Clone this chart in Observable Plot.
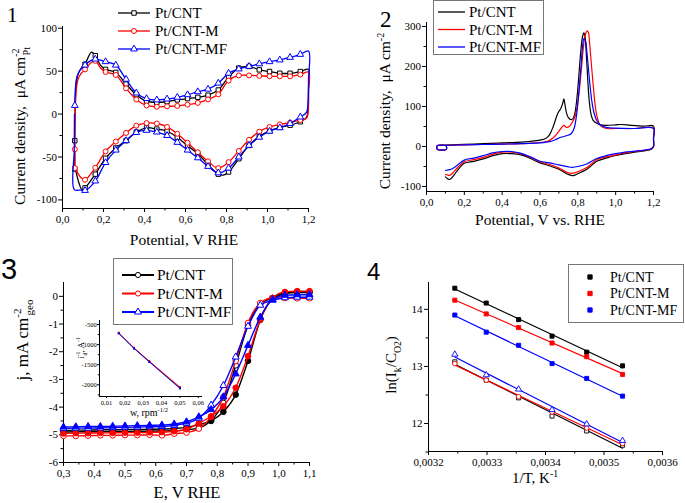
<!DOCTYPE html>
<html><head><meta charset="utf-8">
<script src="https://cdn.jsdelivr.net/npm/d3@7"></script>
<script src="https://cdn.jsdelivr.net/npm/@observablehq/plot@0.6"></script>
<style>
html,body{margin:0;padding:0;background:#fff;}
#fig{position:relative;width:685px;height:503px;overflow:hidden;background:#fff;}
#fig svg text{font-family:'Liberation Serif','Times New Roman',serif;}
#fig svg text.sans{font-family:'Liberation Sans',Arial,sans-serif;}
</style></head><body><div id="fig"></div>
<script>
// ---------- DATA ----------
const seriesNames = ["Pt/CNT", "Pt/CNT-M", "Pt/CNT-MF"];
const seriesColors = ["#000000", "#ff0000", "#0000ff"];

// Panel 1: CV (E, V RHE ; j, uA cm-2 Pt)
const cv1_CNT = [[0.06,-64],[0.06,-31],[0.062,10],[0.066,32],[0.075,46],[0.09,53],[0.11,58],[0.125,66],[0.14,72],[0.15,71],[0.16,68],[0.185,57],[0.21,52],[0.26,48.5],[0.31,35],[0.36,22.5],[0.41,15],[0.46,13.5],[0.51,14.5],[0.56,16.5],[0.61,18],[0.66,19.5],[0.71,22],[0.76,28],[0.81,43],[0.86,53.5],[0.91,55.5],[0.96,51.5],[1.01,49.5],[1.06,47.5],[1.11,47.5],[1.16,49.5],[1.2,52],[1.2,30],[1.198,5],[1.19,-4],[1.16,-9],[1.11,-13],[1.06,-15.5],[1.01,-19.5],[0.96,-26],[0.91,-36.5],[0.86,-52],[0.81,-67.5],[0.785,-71],[0.76,-70],[0.71,-59],[0.66,-46],[0.61,-37],[0.56,-27],[0.51,-20],[0.46,-17.5],[0.41,-16],[0.36,-21],[0.31,-31],[0.26,-39.5],[0.21,-51.5],[0.16,-70],[0.11,-86],[0.095,-88],[0.08,-80],[0.066,-67]];
const cv1_M = [[0.06,-63],[0.06,-41],[0.062,0],[0.066,25],[0.075,40],[0.09,47],[0.11,52],[0.135,59],[0.16,62],[0.185,54],[0.21,49],[0.26,45.5],[0.31,30],[0.36,17],[0.41,10],[0.46,8.5],[0.51,9],[0.56,9.5],[0.61,11],[0.66,13],[0.71,17],[0.76,23],[0.81,39],[0.86,45],[0.91,45],[0.96,44.5],[1.01,44],[1.06,44],[1.11,44],[1.16,46],[1.2,49],[1.2,25],[1.198,2],[1.19,-5],[1.16,-7],[1.11,-10],[1.06,-12],[1.01,-15],[0.96,-20.5],[0.91,-30],[0.86,-43],[0.81,-56],[0.76,-63],[0.71,-55],[0.66,-44.5],[0.61,-33.5],[0.56,-23],[0.51,-15],[0.46,-11],[0.41,-10.5],[0.36,-13.5],[0.31,-22],[0.26,-32],[0.21,-43.5],[0.16,-62.5],[0.11,-76.5],[0.09,-74],[0.066,-65]];
const cv1_MF = [[0.06,10],[0.063,30],[0.07,43],[0.085,51],[0.11,57],[0.135,62],[0.16,64],[0.21,61],[0.26,57],[0.31,40.5],[0.36,24.5],[0.41,18],[0.46,16.5],[0.51,17.5],[0.56,19.5],[0.61,22.5],[0.66,26],[0.71,29],[0.76,36],[0.81,47.5],[0.86,52.5],[0.91,55.5],[0.96,58.5],[1.01,61],[1.06,63],[1.11,66],[1.16,69.5],[1.2,73.5],[1.2,40],[1.198,15],[1.19,2],[1.16,-3.5],[1.11,-11],[1.06,-16],[1.01,-20],[0.96,-27],[0.91,-36.5],[0.86,-50],[0.81,-63],[0.76,-68.5],[0.71,-61],[0.66,-51],[0.61,-42],[0.56,-33],[0.51,-25],[0.46,-21],[0.41,-19],[0.36,-21.5],[0.31,-31],[0.26,-42],[0.21,-56.5],[0.16,-78],[0.11,-89],[0.09,-88.5],[0.0575,-88],[0.0575,-40],[0.0585,0]];

// Panel 2: CO stripping CV
const cv2_CNT = [[0.105,0],[0.105,-7],[0.057,-7],[0.057,2],[0.1,3.5],[0.2,5.5],[0.3,7],[0.4,9],[0.5,11],[0.55,13],[0.6,16],[0.63,20],[0.65,29],[0.67,50],[0.69,78],[0.70,88],[0.71,95],[0.72,108],[0.726,119],[0.732,105],[0.74,84],[0.75,72],[0.765,67],[0.775,70],[0.785,85],[0.795,120],[0.805,175],[0.815,235],[0.825,275],[0.832,284],[0.838,275],[0.845,230],[0.852,170],[0.86,115],[0.87,80],[0.88,66],[0.9,58],[0.92,54],[0.95,53],[1.0,54],[1.03,55],[1.08,53],[1.15,51],[1.2,51],[1.2,20],[1.2,0],[1.19,-6],[1.15,-11],[1.1,-14],[1.05,-18],[1.0,-22.5],[0.95,-29],[0.9,-37],[0.85,-56],[0.8,-68],[0.775,-73],[0.75,-70],[0.7,-57],[0.65,-48],[0.6,-41],[0.55,-30],[0.5,-21],[0.45,-18],[0.4,-18],[0.35,-23],[0.3,-31],[0.25,-37],[0.2,-42],[0.16,-62],[0.13,-80],[0.12,-82.5],[0.11,-80],[0.1,-76]];
const cv2_M = [[0.105,0],[0.105,-7],[0.057,-7],[0.057,2],[0.1,3],[0.2,4],[0.3,5],[0.4,6],[0.5,7],[0.6,10],[0.64,13],[0.67,22],[0.7,38],[0.715,48],[0.726,53],[0.74,48],[0.755,50],[0.77,60],[0.785,75],[0.8,110],[0.81,150],[0.82,200],[0.83,250],[0.84,280],[0.85,289],[0.856,285],[0.862,260],[0.87,215],[0.88,160],[0.89,110],[0.9,78],[0.92,52],[0.95,45],[1.0,45],[1.1,45],[1.2,46],[1.2,20],[1.2,0],[1.19,-5],[1.15,-10],[1.1,-12.5],[1.05,-16],[1.0,-21],[0.95,-26],[0.9,-33],[0.85,-52],[0.8,-63],[0.77,-67],[0.75,-66],[0.7,-54],[0.65,-45],[0.6,-38],[0.55,-27],[0.5,-18],[0.45,-14],[0.4,-14],[0.35,-19],[0.3,-27],[0.25,-33],[0.2,-38],[0.16,-55],[0.13,-70],[0.12,-72],[0.11,-71],[0.1,-70]];
const cv2_MF = [[0.105,0],[0.105,-7],[0.057,-7],[0.057,2],[0.1,3],[0.2,4],[0.3,5],[0.4,6],[0.5,7],[0.6,9],[0.65,12],[0.68,17],[0.71,23],[0.74,27],[0.765,32],[0.78,45],[0.795,85],[0.805,135],[0.815,190],[0.825,250],[0.832,270],[0.84,265],[0.848,235],[0.857,190],[0.865,150],[0.875,110],[0.885,85],[0.9,65],[0.92,53],[0.95,48],[1.0,46],[1.1,45],[1.2,45],[1.2,20],[1.2,0],[1.19,-5],[1.15,-9],[1.1,-11.7],[1.05,-14],[1.0,-18],[0.95,-23],[0.9,-30],[0.85,-43],[0.8,-50],[0.77,-52],[0.75,-51],[0.7,-46],[0.65,-41],[0.6,-37],[0.55,-26],[0.5,-17],[0.45,-12.5],[0.4,-12.5],[0.35,-16],[0.3,-23],[0.25,-29],[0.2,-34],[0.16,-48],[0.13,-57],[0.12,-58],[0.11,-59],[0.1,-60]];

// Panel 3: LSV (E, V RHE ; j, mA cm-2 geo)
const lsvE = [0.30,0.34,0.38,0.42,0.46,0.50,0.54,0.58,0.62,0.66,0.70,0.74,0.78,0.82,0.86,0.90,0.94,0.98,1.02,1.06,1.10];
const lsv_CNT_open   = [-4.90,-4.89,-4.89,-4.89,-4.88,-4.88,-4.87,-4.87,-4.86,-4.85,-4.82,-4.75,-4.48,-3.85,-2.49,-1.04,-0.27,-0.06,0.10,0.14,0.14];
const lsv_CNT_filled = [-4.84,-4.83,-4.83,-4.82,-4.82,-4.81,-4.81,-4.80,-4.79,-4.77,-4.73,-4.63,-4.50,-4.17,-3.55,-2.33,-0.85,-0.06,0.13,0.17,0.16];
const lsv_M_open     = [-5.04,-5.04,-5.03,-5.02,-5.02,-5.01,-5.01,-5.00,-5.02,-4.96,-4.92,-4.78,-4.35,-3.63,-2.33,-0.96,-0.24,-0.06,-0.06,-0.07,-0.07];
const lsv_M_filled   = [-4.95,-4.94,-4.94,-4.93,-4.93,-4.92,-4.92,-4.91,-4.90,-4.87,-4.80,-4.58,-4.33,-3.97,-3.30,-2.16,-0.84,-0.06,0.16,0.19,0.19];
const lsv_MF_open    = [-4.77,-4.76,-4.76,-4.75,-4.74,-4.73,-4.72,-4.71,-4.70,-4.66,-4.58,-4.40,-3.93,-3.22,-2.19,-1.08,-0.32,-0.14,-0.05,-0.03,-0.03];
const lsv_MF_filled  = [-4.72,-4.71,-4.70,-4.70,-4.69,-4.68,-4.67,-4.66,-4.65,-4.61,-4.53,-4.35,-4.09,-3.63,-2.80,-1.77,-0.75,-0.12,0.04,0.06,0.06];

// Inset: Koutecky-Levich
const klW = [0.0167, 0.025, 0.0333, 0.05];
const kl_CNT = [-715, -1090, -1420, -2075];
const kl_M   = [-705, -1080, -1410, -2055];
const kl_MF  = [-720, -1095, -1430, -2090];

// Panel 4: Arrhenius
const invT = [0.003245, 0.0032987, 0.003354, 0.0034112, 0.0034704, 0.0035317];
const arrA_CNT = [14.37, 14.11, 13.82, 13.53, 13.25, 13.01];
const arrA_M   = [14.16, 13.92, 13.68, 13.41, 13.17, 12.86];
const arrA_MF  = [13.90, 13.60, 13.37, 13.05, 12.79, 12.48];
const arrB_CNT = [13.08, 12.76, 12.45, 12.13, 11.87, 11.62];
const arrB_M   = [13.05, 12.76, 12.47, 12.20, 11.92, 11.65];
const arrB_MF  = [13.21, 12.85, 12.60, 12.24, 11.99, 11.70];

// Tick labels
const p1X = [0, 0.2, 0.4, 0.6, 0.8, 1.0, 1.2], p1Y = [-100, -50, 0, 50, 100];
const p2X = [0, 0.2, 0.4, 0.6, 0.8, 1.0, 1.2], p2Y = [-100, 0, 100, 200, 300];
const p3X = [0.3, 0.4, 0.5, 0.6, 0.7, 0.8, 0.9, 1.0, 1.1], p3Y = [-6, -5, -4, -3, -2, -1, 0];
const inX = [0.01, 0.02, 0.03, 0.04, 0.05, 0.06], inY = [-2000, -1500, -1000, -500];
const p4X = [0.0032, 0.0033, 0.0034, 0.0035, 0.0036], p4Y = [12, 13, 14];

// ---------- HELPERS ----------
const fig = document.getElementById("fig");
function place(el, left, top) { el.style.position = "absolute"; el.style.left = left + "px"; el.style.top = top + "px"; fig.appendChild(el); return el; }
const comma = f => d => d3.format(f)(d).replace(".", ",");
const plain = d => String(d);
const toPts = (arr, s) => arr.map(([E, j]) => ({E, j, s}));
const symType = {circle: d3.symbolCircle, square: d3.symbolSquare, triangle: d3.symbolTriangle};

function frame({x0, y0, xMajor, xMinor, yMajor, yMinor, xFmt, yFmt, tick = 4, minor = 2.5, padY = 1.5, padX = 2.5}) {
  return [
    Plot.axisY({ticks: yMajor, tickSize: tick, tickPadding: padY, tickFormat: yFmt, label: null}),
    Plot.axisY({ticks: yMinor, tickSize: minor, tickFormat: () => "", label: null}),
    Plot.axisX({ticks: xMajor, tickSize: tick, tickPadding: padX, tickFormat: xFmt, label: null}),
    Plot.axisX({ticks: xMinor, tickSize: minor, tickFormat: () => "", label: null}),
    Plot.ruleX([x0], {stroke: "#000", strokeWidth: 1}),
    Plot.ruleY([y0], {stroke: "#000", strokeWidth: 1})
  ];
}
function rich(svg, x, y, parts, size, {rotate = false, anchor = "middle", cls = null} = {}) {
  const t = d3.select(svg).append("text")
    .attr("transform", `translate(${x},${y})` + (rotate ? " rotate(-90)" : ""))
    .attr("text-anchor", anchor).attr("font-size", size).attr("fill", "#000");
  if (cls) t.attr("class", cls);
  let shift = 0;
  for (const p of parts) {
    const sp = t.append("tspan").text(p.t);
    let target = 0;
    if (p.sup) { target = -0.42 * size; sp.attr("font-size", size * 0.65); }
    if (p.sub) { target = 0.3 * size; sp.attr("font-size", size * 0.65); }
    sp.attr("dy", target - shift);
    if (p.dx) sp.attr("dx", p.dx);
    shift = target;
  }
  return t;
}
function legendEntry(svg, {x1, x2, y, color, symbol, fill, label, tx, fs, r, lw = 1.3}) {
  const g = d3.select(svg).append("g");
  if (x2 > x1) g.append("line").attr("x1", x1).attr("x2", x2).attr("y1", y).attr("y2", y).attr("stroke", color).attr("stroke-width", lw);
  if (symbol) g.append("path").attr("d", d3.symbol(symType[symbol], r * r * Math.PI)()).attr("transform", `translate(${(x1 + x2) / 2},${y})`)
    .attr("fill", fill).attr("stroke", color).attr("stroke-width", 1);
  g.append("text").attr("x", tx).attr("y", y).attr("dy", "0.34em").attr("text-anchor", "start").attr("font-size", fs).attr("fill", "#000").text(label);
}
const baseStyle = {fontSize: "11px", color: "#000", background: "transparent", overflow: "visible"};

// ---------- PANEL 1 ----------
const cv1 = [cv1_CNT, cv1_M, cv1_MF];
const sym1 = ["square", "circle", "triangle"];
const onGrid1 = E => { const k = (E - 0.06) / 0.05; return Math.abs(k - Math.round(k)) * 0.05 < 0.001 && E < 1.18; };
const p1 = Plot.plot({
  width: 340, height: 250, marginLeft: 62, marginRight: 32, marginTop: 26, marginBottom: 42,
  x: {domain: [0, 1.2]}, y: {domain: [-110, 102]}, style: baseStyle,
  marks: [
    ...frame({x0: 0, y0: -110, xMajor: p1X, xMinor: [0.1, 0.3, 0.5, 0.7, 0.9, 1.1], yMajor: p1Y, yMinor: [-75, -25, 25, 75], xFmt: comma(".1f"), yFmt: plain}),
    ...cv1.flatMap((arr, i) => [
      Plot.line(toPts(arr, i), {x: "E", y: "j", stroke: seriesColors[i], strokeWidth: 1.3, curve: "catmull-rom"}),
      Plot.dot(toPts(arr, i), {x: "E", y: "j", stroke: seriesColors[i], fill: "white", symbol: sym1[i], r: 2.5, strokeWidth: 1, filter: d => onGrid1(d.E)})
    ])
  ]
});
place(p1, 0, 0);
rich(p1, 25, 126, [{t: "Current density,  μA cm"}, {t: "-2", sup: true}, {t: "Pt", sub: true, dx: -7}], 15.5, {rotate: true});
rich(p1, 184, 245, [{t: "Potential, V RHE"}], 15.5);
rich(p1, 7, 22, [{t: "1"}], 21, {anchor: "start"});
seriesNames.forEach((n, i) => legendEntry(p1, {x1: 118, x2: 150, y: 13 + 18 * i, color: seriesColors[i], symbol: sym1[i], fill: "white", label: n, tx: 155, fs: 15, r: 2.5}));

// ---------- PANEL 2 ----------
const cv2 = [cv2_CNT, cv2_M, cv2_MF];
const p2 = Plot.plot({
  width: 345, height: 250, marginLeft: 86, marginRight: 32, marginTop: 22, marginBottom: 59,
  x: {domain: [0, 1.2]}, y: {domain: [-112.5, 310]}, style: baseStyle,
  marks: [
    ...frame({x0: 0, y0: -112.5, xMajor: p2X, xMinor: [0.1, 0.3, 0.5, 0.7, 0.9, 1.1], yMajor: p2Y, yMinor: [-50, 50, 150, 250], xFmt: comma(".1f"), yFmt: plain}),
    ...cv2.map((arr, i) => Plot.line(toPts(arr, i), {x: "E", y: "j", stroke: seriesColors[i], strokeWidth: 1.2, curve: "catmull-rom"}))
  ]
});
place(p2, 340, 0);
d3.select(p2).append("rect").attr("x", 93.5).attr("y", 0.5).attr("width", 110).attr("height", 54).attr("fill", "white").attr("stroke", "#777");
seriesNames.forEach((n, i) => legendEntry(p2, {x1: 98, x2: 125, y: 12 + 17.5 * i, color: seriesColors[i], label: n, tx: 129, fs: 15}));
rich(p2, 50, 111, [{t: "Current density,  μA cm"}, {t: "-2", sup: true}], 15.5, {rotate: true});
rich(p2, 200, 225, [{t: "Potential, V vs. RHE"}], 15.5);
rich(p2, 40, 27, [{t: "2"}], 23, {anchor: "start"});

// ---------- PANEL 3 ----------
const lsv = [
  {arr: lsv_CNT_open, c: 0, sym: "circle", filled: false},
  {arr: lsv_CNT_filled, c: 0, sym: "circle", filled: true},
  {arr: lsv_M_open, c: 1, sym: "circle", filled: false},
  {arr: lsv_M_filled, c: 1, sym: "circle", filled: true},
  {arr: lsv_MF_open, c: 2, sym: "triangle", filled: false},
  {arr: lsv_MF_filled, c: 2, sym: "triangle", filled: true}
];
const p3 = Plot.plot({
  width: 340, height: 253, marginLeft: 63, marginRight: 31, marginTop: 32, marginBottom: 41,
  x: {domain: [0.3, 1.1]}, y: {domain: [-6, 0.5]}, style: baseStyle,
  marks: [
    ...frame({x0: 0.3, y0: -6, xMajor: p3X, xMinor: [0.35, 0.45, 0.55, 0.65, 0.75, 0.85, 0.95, 1.05], yMajor: p3Y, yMinor: [-5.5, -4.5, -3.5, -2.5, -1.5, -0.5], xFmt: comma(".1f"), yFmt: plain}),
    ...lsv.flatMap(s => {
      const pts = lsvE.map((E, k) => ({E, j: s.arr[k]}));
      return [
        Plot.line(pts, {x: "E", y: "j", stroke: seriesColors[s.c], strokeWidth: 1.4, curve: "monotone-x"}),
        Plot.dot(pts, {x: "E", y: "j", stroke: seriesColors[s.c], fill: s.filled ? seriesColors[s.c] : "white", symbol: s.sym, r: s.sym === "triangle" ? 2.6 : 2.8, strokeWidth: 1})
      ];
    })
  ]
});
place(p3, 0, 250);
d3.select(p3).append("rect").attr("x", 113.5).attr("y", 8.5).attr("width", 119).attr("height", 66).attr("fill", "white").attr("stroke", "#777");
seriesNames.forEach((n, i) => legendEntry(p3, {x1: 122, x2: 154, y: 25 + 18.5 * i, color: seriesColors[i], symbol: i === 2 ? "triangle" : "circle", fill: "white", label: n, tx: 157, fs: 15.5, r: 2.6, lw: 2}));
rich(p3, 28, 90, [{t: "j, mA cm"}, {t: "-2", sup: true}, {t: "geo", sub: true, dx: -7}], 17, {rotate: true});
rich(p3, 187, 248, [{t: "E, V RHE"}], 16.5);
rich(p3, 1, 29, [{t: "3"}], 29, {anchor: "start", cls: "sans"});

// Inset
const kl = [kl_CNT, kl_M, kl_MF];
const pin = Plot.plot({
  width: 150, height: 125, marginLeft: 39, marginRight: 8, marginTop: 20, marginBottom: 29,
  x: {domain: [0.0062, 0.0623]}, y: {domain: [-2290, -400]}, style: {...baseStyle, fontSize: "6.5px"},
  marks: [
    ...frame({x0: 0.0062, y0: -2290, xMajor: inX, xMinor: [0.015, 0.025, 0.035, 0.045, 0.055], yMajor: inY, yMinor: [-2250, -1750, -1250, -750], xFmt: comma(".2f"), yFmt: plain, tick: 2, minor: 1.2, padY: 0.8, padX: 2}),
    ...kl.flatMap((arr, i) => {
      const pts = klW.map((w, k) => ({w, v: arr[k]}));
      return [
        Plot.line(pts, {x: "w", y: "v", stroke: seriesColors[i], strokeWidth: 1, strokeOpacity: 0.85}),
        Plot.dot(pts, {x: "w", y: "v", fill: seriesColors[i], symbol: "square", r: 1.1})
      ];
    })
  ]
});
place(pin, 60, 300);
rich(pin, 24, 48, [{t: "i"}, {t: "-1", sup: true}, {t: "d", sub: true, dx: -4}, {t: ", A"}, {t: "-1", sup: true}], 9, {rotate: true});
rich(pin, 89, 116, [{t: "w, rpm"}, {t: "-1/2", sup: true}], 10);

// ---------- PANEL 4 ----------
const arr4 = [
  {arr: arrA_CNT, c: 0, sym: "square", filled: true},
  {arr: arrA_M, c: 1, sym: "square", filled: true},
  {arr: arrA_MF, c: 2, sym: "square", filled: true},
  {arr: arrB_CNT, c: 0, sym: "square", filled: false},
  {arr: arrB_M, c: 1, sym: "circle", filled: false},
  {arr: arrB_MF, c: 2, sym: "triangle", filled: false}
];
const p4 = Plot.plot({
  width: 345, height: 253, marginLeft: 88, marginRight: 23, marginTop: 32, marginBottom: 52,
  x: {domain: [0.0032, 0.0036]}, y: {domain: [11.51, 14.47]}, style: baseStyle,
  marks: [
    ...frame({x0: 0.0032, y0: 11.51, xMajor: p4X, xMinor: [0.00325, 0.00335, 0.00345, 0.00355], yMajor: p4Y, yMinor: [11.5, 12.5, 13.5], xFmt: comma(".4f"), yFmt: plain, padY: 2}),
    ...arr4.flatMap(s => {
      const pts = invT.map((x, k) => ({x, y: s.arr[k]}));
      return [
        Plot.linearRegressionY(pts, {x: "x", y: "y", stroke: seriesColors[s.c], strokeWidth: 1.2, ci: 0}),
        Plot.dot(pts, {x: "x", y: "y", stroke: seriesColors[s.c], fill: s.filled ? seriesColors[s.c] : "white", symbol: s.sym, r: 2.3, strokeWidth: 0.9})
      ];
    })
  ]
});
place(p4, 340, 250);
d3.select(p4).append("rect").attr("x", 228.5).attr("y", 14.5).attr("width", 115).attr("height", 58).attr("fill", "white").attr("stroke", "#777");
seriesNames.forEach((n, i) => legendEntry(p4, {x1: 250, x2: 250, y: 27 + 16.5 * i, color: seriesColors[i], symbol: "square", fill: seriesColors[i], label: n, tx: 270, fs: 14, r: 2.4}));
rich(p4, 56, 115, [{t: "ln(I"}, {t: "k", sub: true}, {t: "/C"}, {t: "O2", sub: true}, {t: ")"}], 15, {rotate: true});
rich(p4, 195, 233, [{t: "1/T, K"}, {t: "-1", sup: true}], 15);
rich(p4, 27, 30, [{t: "4"}], 24, {anchor: "start", cls: "sans"});
</script></body></html>
